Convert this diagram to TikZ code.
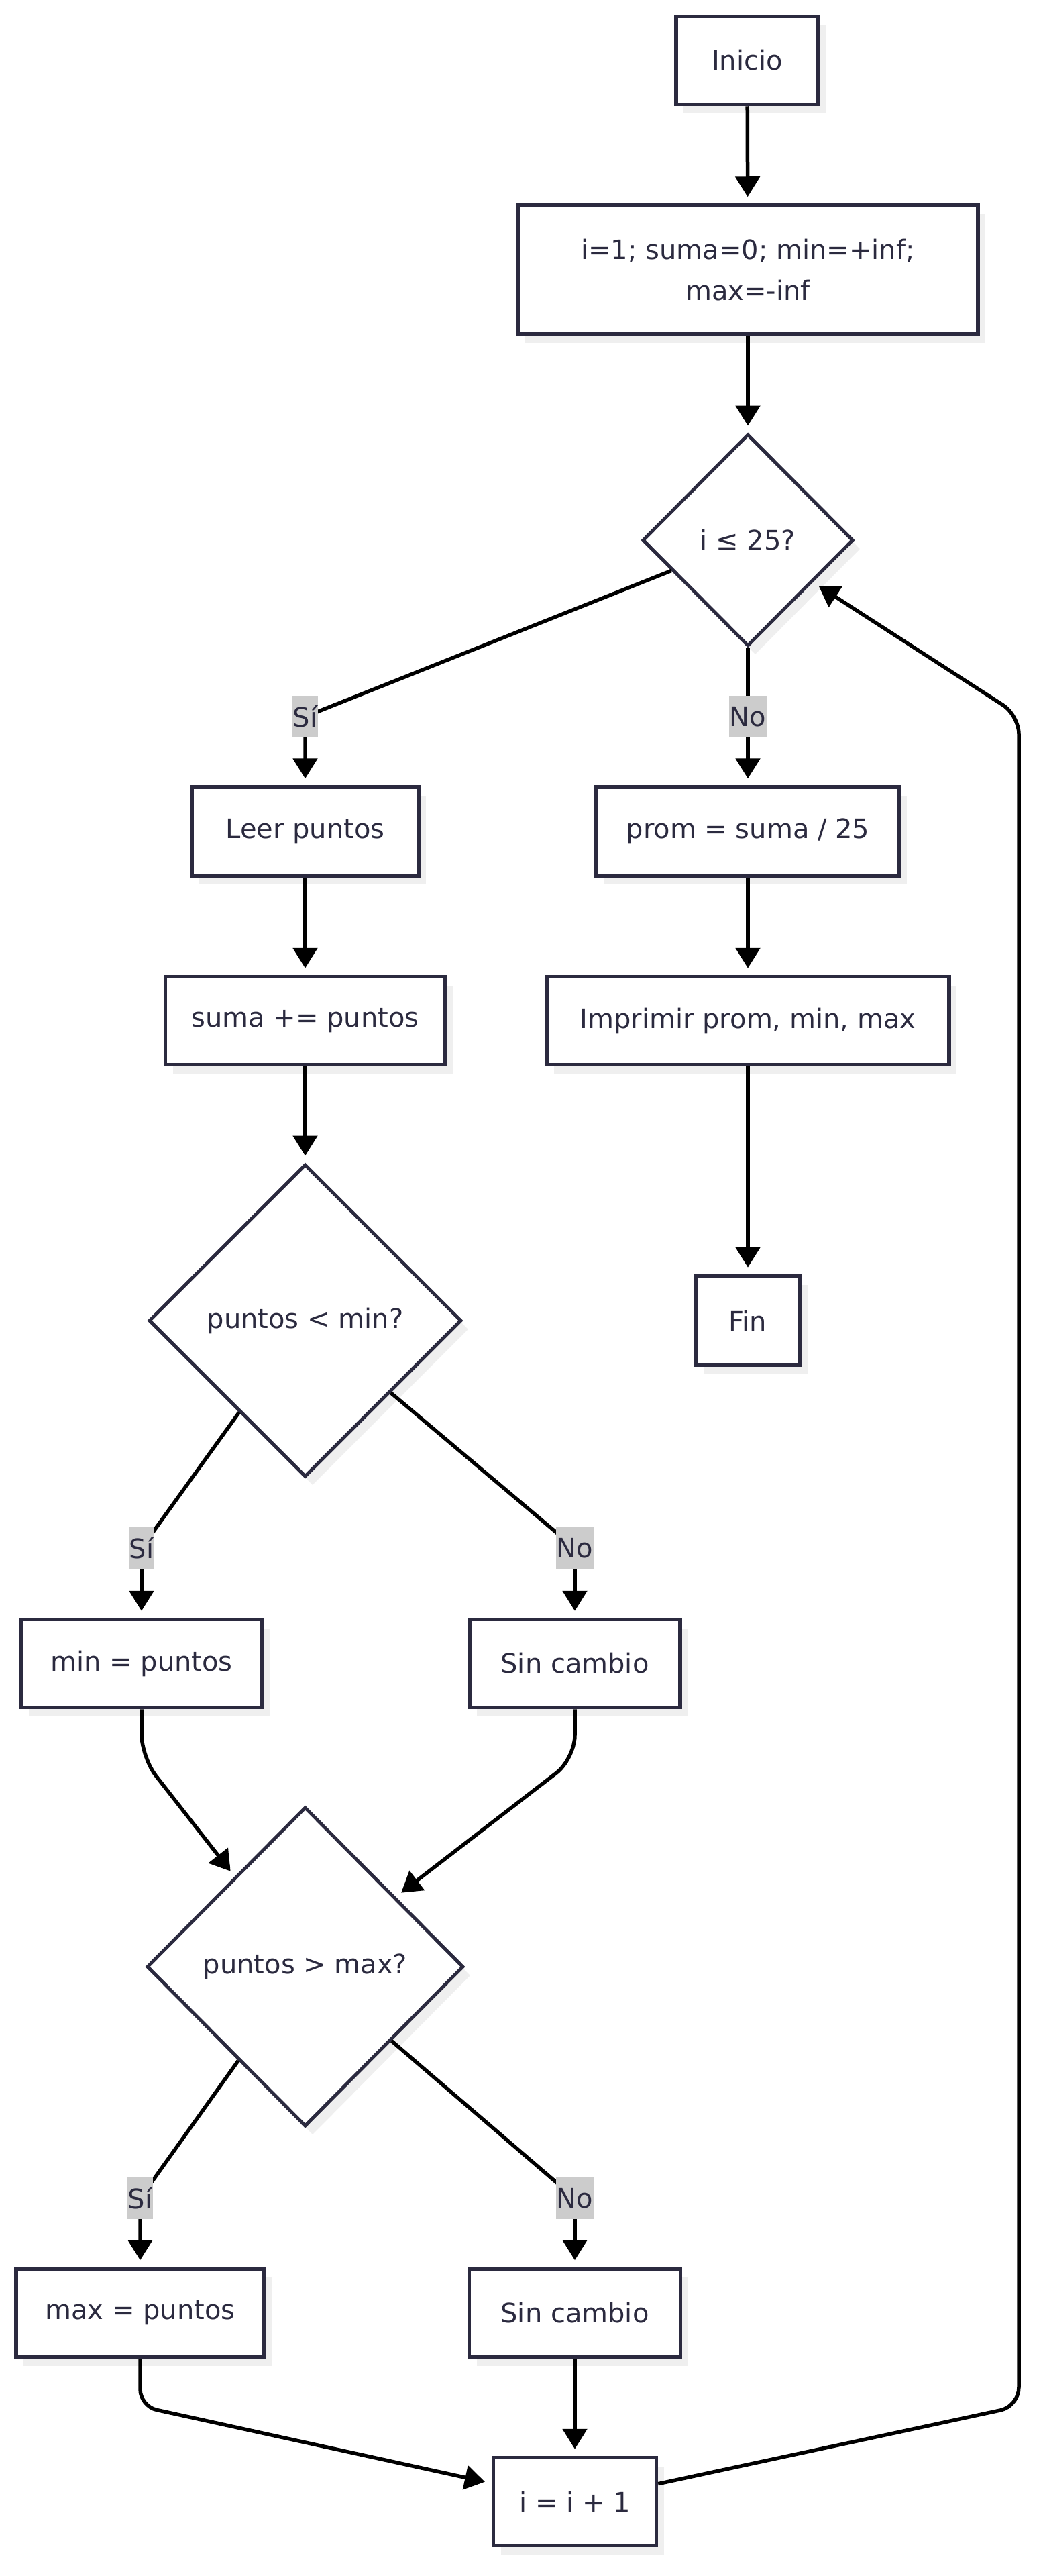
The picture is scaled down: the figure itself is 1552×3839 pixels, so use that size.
\documentclass[tikz,border=0pt]{standalone}
\usepackage{fontspec}
\setmainfont{DejaVu Sans}
\usetikzlibrary{shapes.geometric,arrows.meta,shadows}
\definecolor{ink}{RGB}{43,42,63}
\definecolor{lblbg}{RGB}{204,204,204}
\definecolor{shade}{RGB}{239,239,239}
\begin{document}
\begin{tikzpicture}[x=1pt,y=-1pt,
  txt/.style={text=ink, font=\fontsize{40}{61}\selectfont},
  shad/.style={drop shadow={shadow xshift=11pt, shadow yshift=-13pt, fill=shade, opacity=1}},
  box/.style={txt, shad, rectangle, draw=ink, line width=5.5pt, fill=white, inner sep=0pt, align=center},
  dec/.style={txt, shad, diamond, aspect=1, draw=ink, line width=5pt, fill=white, inner sep=0pt},
  lbl/.style={txt, fill=lblbg, inner xsep=1pt, inner ysep=0pt, minimum height=62pt},
  arr/.style={draw=black, line width=5.5pt, -{Triangle[length=30pt,width=36pt]}, shorten >=10pt},
]
\useasboundingbox (0,0) rectangle (1552,3839);

% nodes
\node[box, minimum width=212pt, minimum height=131pt] (inicio) at (1114,90) {Inicio};
\node[box, minimum width=686pt, minimum height=192pt] (init) at (1115,402) {i=1; suma=0; min=+inf;\\max=-inf};
\node[dec, minimum width=314pt, minimum height=316pt] (d1) at (1115,805) {i ≤ 25?};
\node[box, minimum width=338pt, minimum height=132pt] (leer) at (455,1239) {Leer puntos};
\node[box, minimum width=452pt, minimum height=132pt] (prom) at (1115,1239) {prom = suma / 25};
\node[box, minimum width=417pt, minimum height=131pt] (suma) at (455,1521) {suma += puntos};
\node[box, minimum width=600pt, minimum height=131pt] (impr) at (1115,1521) {Imprimir prom, min, max};
\node[box, minimum width=155pt, minimum height=133pt] (fin) at (1115,1968) {Fin};
\node[dec, minimum width=466pt, minimum height=466pt] (d2) at (455,1968) {puntos < min?};
\node[box, minimum width=359pt, minimum height=131pt] (minp) at (211,2479) {min = puntos};
\node[box, minimum width=314pt, minimum height=131pt] (sc1) at (857,2479) {Sin cambio};
\node[dec, minimum width=472pt, minimum height=476pt] (d3) at (455,2931) {puntos > max?};
\node[box, minimum width=370pt, minimum height=132pt] (maxp) at (209,3447) {max = puntos};
\node[box, minimum width=315pt, minimum height=132pt] (sc2) at (857,3447) {Sin cambio};
\node[box, minimum width=243pt, minimum height=131pt] (inc) at (857,3728) {i = i + 1};

% label positions
\coordinate (cSi1) at (455,1068);
\coordinate (cNo1) at (1115,1068);
\coordinate (cSi2) at (211,2307);
\coordinate (cNo2) at (857,2307);
\coordinate (cSi3) at (209,3276);
\coordinate (cNo3) at (857,3276);

% edges
\draw[arr] (inicio) -- (init);
\draw[arr] (init) -- (d1);
\draw[arr] (d1) -- (cSi1) -- (leer);
\draw[arr] (d1) -- (cNo1) -- (prom);
\draw[arr] (leer) -- (suma);
\draw[arr] (prom) -- (impr);
\draw[arr] (impr) -- (fin);
\draw[arr] (suma) -- (d2);
\draw[arr] (d2) -- (cSi2) -- (minp);
\draw[arr] (d2) -- (cNo2) -- (sc1);
\draw[arr, rounded corners=35pt] (minp) -- (211,2619) -- (d3);
\draw[arr, rounded corners=35pt] (sc1) -- (857,2621) -- (d3);
\draw[arr] (d3) -- (cSi3) -- (maxp);
\draw[arr] (d3) -- (cNo3) -- (sc2);
\draw[arr, rounded corners=25pt] (maxp) -- (209,3586) -- (inc);
\draw[arr] (sc2) -- (inc);
\draw[arr, rounded corners=28pt] (inc) -- (1519,3586) -- (1519,1066) -- (d1);

% edge labels
\node[lbl] (lSi1) at (cSi1) {Sí};
\node[lbl] (lNo1) at (cNo1) {No};
\node[lbl] (lSi2) at (cSi2) {Sí};
\node[lbl] (lNo2) at (cNo2) {No};
\node[lbl] (lSi3) at (cSi3) {Sí};
\node[lbl] (lNo3) at (cNo3) {No};
\end{tikzpicture}
\end{document}
